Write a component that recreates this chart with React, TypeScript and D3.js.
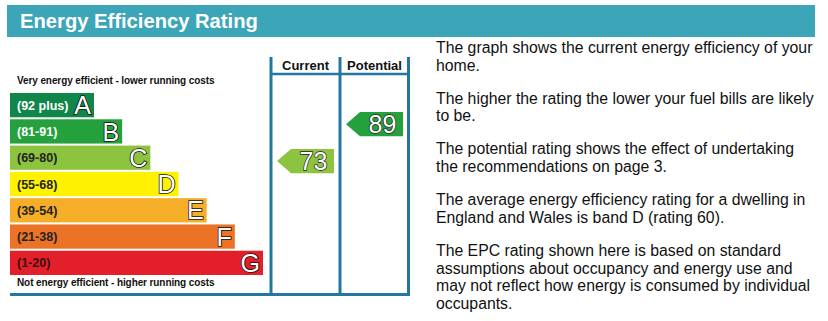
import React from "react";
import * as d3 from "d3";

const bandLetters = ["A", "B", "C", "D", "E", "F", "G"];
const bandRanges = ["(92 plus)", "(81-91)", "(69-80)", "(55-68)", "(39-54)", "(21-38)", "(1-20)"];
const bandMin = [92, 81, 69, 55, 39, 21, 1];
const bandMax = [100, 91, 80, 68, 54, 38, 20];
const bandColors = ["#10864a", "#24a03c", "#8dc43f", "#fff200", "#f6ad28", "#ec7326", "#e3202a"];
const labelColors = ["#ffffff", "#ffffff", "#222222", "#222222", "#222222", "#222222", "#3a1010"];

const columns = ["Current", "Potential"];
const ratings = [73, 89];

const paragraphs = [
  ["The graph shows the current energy efficiency of your", "home."],
  ["The higher the rating the lower your fuel bills are likely", "to be."],
  ["The potential rating shows the effect of undertaking", "the recommendations on page 3."],
  ["The average energy efficiency rating for a dwelling in", "England and Wales is band D (rating 60)."],
  [
    "The EPC rating shown here is based on standard",
    "assumptions about occupancy and energy use and",
    "may not reflect how energy is consumed by individual",
    "occupants.",
  ],
];

const FONT = "Arial, 'Liberation Sans', sans-serif";
const LINE = "#2277a0";

export default function App() {
  const W = 828;
  const H = 321;

  const y = d3.scaleBand<string>().domain(bandLetters).range([93, 275]).paddingInner(2 / 26).paddingOuter(0);
  const xRight = d3.scaleLinear().domain([0, 6]).range([94, 263]);
  const x0 = 10;

  const colX = d3.scaleBand<string>().domain(columns).range([271, 409]);

  const bandIndexOf = (v: number) => bandMin.findIndex((m, i) => v >= m && v <= bandMax[i]);
  const arrowY = (v: number) => {
    const i = bandIndexOf(v);
    const frac = (v - bandMin[i]) / (bandMax[i] - bandMin[i]);
    const top = y(bandLetters[i])!;
    const bh = y.bandwidth();
    return d3.scaleLinear().domain([0, 1]).range([top + bh, top])(frac);
  };

  const bh = y.bandwidth();

  return (
    <svg width={W} height={H} style={{ position: "absolute", left: 0, top: 0 }}>
      <rect x={0} y={0} width={W} height={H} fill="#ffffff" />
      {/* Header */}
      <rect x={7} y={5} width={808} height={32} fill="#3ca5b8" />
      <text x={20} y={28} fill="#ffffff" fontFamily={FONT} fontWeight="bold" fontSize={20.2}>
        Energy Efficiency Rating
      </text>

      {/* Column lines */}
      <line x1={271} y1={57} x2={271} y2={295} stroke={LINE} strokeWidth={3} />
      <line x1={340} y1={57} x2={340} y2={295} stroke={LINE} strokeWidth={3} />
      <line x1={408.5} y1={57} x2={408.5} y2={295} stroke={LINE} strokeWidth={3} />
      <line x1={271} y1={74} x2={408.5} y2={74} stroke={LINE} strokeWidth={2.5} />
      <line x1={10} y1={294.5} x2={410} y2={294.5} stroke={LINE} strokeWidth={3} />

      {columns.map((c) => (
        <text
          key={c}
          x={colX(c)! + colX.bandwidth() / 2}
          y={70}
          textAnchor="middle"
          fontFamily={FONT}
          fontWeight="bold"
          fontSize={13}
          fill="#111"
        >
          {c}
        </text>
      ))}

      <text x={17} y={84} fontFamily={FONT} fontSize={10} fill="#111" fontWeight="bold" letterSpacing={-0.1}>
        Very energy efficient - lower running costs
      </text>
      <text x={17} y={286} fontFamily={FONT} fontSize={10} fill="#111" fontWeight="bold" letterSpacing={-0.1}>
        Not energy efficient - higher running costs
      </text>

      {bandLetters.map((b, i) => {
        const top = y(b)!;
        const right = xRight(i);
        return (
          <g key={b}>
            <rect x={x0} y={top} width={right - x0} height={bh} fill={bandColors[i]} />
            <text
              x={17}
              y={top + bh / 2 + 4.5}
              fontFamily={FONT}
              fontWeight="bold"
              fontSize={12.5}
              fill={labelColors[i]}
            >
              {bandRanges[i]}
            </text>
            <text
              x={right - 3}
              y={top + bh - 3}
              textAnchor="end"
              fontFamily={FONT}
              fontSize={25}
              fill="#ffffff"
              stroke="#111"
              strokeWidth={1.6}
              paintOrder="stroke"
            >
              {b}
            </text>
          </g>
        );
      })}

      {ratings.map((v, k) => {
        const i = bandIndexOf(v);
        const cy = arrowY(v);
        const left = colX(columns[k])! + 6;
        const right = colX(columns[k])! + colX.bandwidth() - 6;
        const h = bh;
        const tip = 14;
        const pts: [number, number][] = [
          [left, cy],
          [left + tip, cy - h / 2],
          [right, cy - h / 2],
          [right, cy + h / 2],
          [left + tip, cy + h / 2],
        ];
        const path = d3.line()(pts)! + "Z";
        return (
          <g key={columns[k]}>
            <path d={path} fill={bandColors[i]} />
            <text
              x={(left + tip + right) / 2 + 1}
              y={cy + 9}
              textAnchor="middle"
              fontFamily={FONT}
              fontSize={25}
              fill="#ffffff"
              stroke="#222"
              strokeWidth={1.4}
              paintOrder="stroke"
            >
              {v}
            </text>
          </g>
        );
      })}

      {paragraphs.map((p, pi) =>
        p.map((line, li) => (
          <text
            key={pi + "-" + li}
            x={436}
            y={53 + pi * 50.7 + li * 17.7}
            fontFamily={FONT}
            fontSize={15.8}
            fill="#111"
          >
            {line}
          </text>
        ))
      )}
    </svg>
  );
}
